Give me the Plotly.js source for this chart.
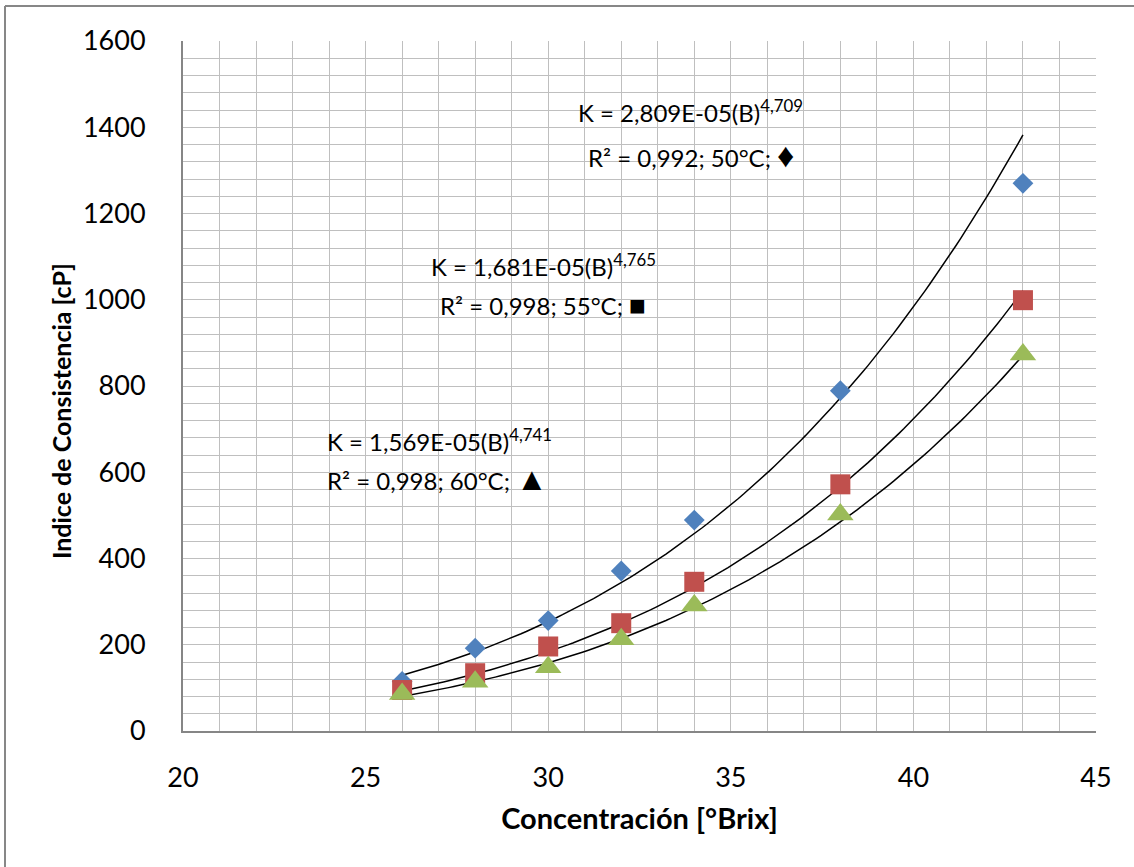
<!DOCTYPE html>
<html>
<head>
<meta charset="utf-8">
<script src="https://cdn.plot.ly/plotly-3.0.1.min.js"></script>
<style>
html,body{margin:0;padding:0;background:#fff;}
#chart{width:1134px;height:867px;}
</style>
</head>
<body>
<div id="chart"></div>
<script>
// Data
const brix = [26, 28, 30, 32, 34, 38, 43];
const k50 = [115, 192, 256, 371, 489, 789, 1270];
const k55 = [95, 134, 196, 250, 346, 572, 999];
const k60 = [86, 114, 148, 213, 291, 502, 873];

// Power trendline coefficients K = a * B^b (as printed on the chart)
const fitA = [2.809e-5, 1.681e-5, 1.569e-5];
const fitB = [4.709, 4.765, 4.741];

const seriesNames = ['50°C', '55°C', '60°C'];
const eqLine1 = ['K = 2,809E-05(B)<sup>4,709</sup>', 'K = 1,681E-05(B)<sup>4,765</sup>', 'K = 1,569E-05(B)<sup>4,741</sup>'];
const eqLine2 = ['R² = 0,992; 50°C; <span style="font-size:34px">♦</span>', 'R² = 0,998; 55°C; <span style="font-size:28px">■</span>', 'R² = 0,998; 60°C; <span style="font-size:32px">▲</span>'];

const xTitle = 'Concentración [°Brix]';
const yTitle = 'Indice de Consistencia [cP]';

const colors = ['#4F81BD', '#C0504D', '#9BBB59'];
const symbols = ['diamond', 'square', 'triangle-up'];
const sizes = [16, 20, 23];
const allY = [k50, k55, k60];

const traces = [];
// trendlines
const xmin = Math.min(...brix), xmax = Math.max(...brix);
for (let s = 0; s < 3; s++) {
  const xs = [], ys = [];
  for (let i = 0; i <= 120; i++) {
    const x = xmin + (xmax - xmin) * i / 120;
    xs.push(x);
    ys.push(fitA[s] * Math.pow(x, fitB[s]));
  }
  traces.push({x: xs, y: ys, mode: 'lines', line: {color: '#000', width: 1.5}, hoverinfo: 'skip', showlegend: false});
}
// markers
for (let s = 0; s < 3; s++) {
  traces.push({
    x: brix, y: allY[s], mode: 'markers', name: seriesNames[s],
    marker: {color: colors[s], symbol: symbols[s], size: sizes[s], line: {width: 0}},
    showlegend: false
  });
}

const L = 183, R = 38, T = 41, B = 136;
const pw = 1134 - L - R, ph = 867 - T - B;

// annotation positions (data coords)
const annPos = [
  [[33.91, 1438], [33.92, 1338]],
  [[29.88, 1080], [29.87, 990]],
  [[27.02, 674], [26.97, 588]]
];
const annotations = [];
for (let s = 0; s < 3; s++) {
  annotations.push({x: annPos[s][0][0], y: annPos[s][0][1], xref: 'x', yref: 'y', text: eqLine1[s], showarrow: false, font: {family: 'Lato, sans-serif', size: 24, color: '#000'}});
  annotations.push({x: annPos[s][1][0], y: annPos[s][1][1], xref: 'x', yref: 'y', text: eqLine2[s], showarrow: false, font: {family: 'Lato, sans-serif', size: 24, color: '#000'}});
}
// y-axis title
annotations.push({
  x: (61 - L) / pw, y: (T + ph - 411) / ph, xref: 'paper', yref: 'paper',
  text: '<b>' + yTitle + '</b>', textangle: -90, showarrow: false,
  xanchor: 'center', yanchor: 'middle',
  font: {family: 'Lato, sans-serif', size: 25, color: '#000'}
});

const shapes = [
  {type: 'line', xref: 'paper', yref: 'paper', x0: (5 - L) / pw, x1: (5 - L) / pw, y0: (T + ph - 6) / ph, y1: (T + ph - 870) / ph, line: {color: '#878787', width: 2}},
  {type: 'line', xref: 'paper', yref: 'paper', x0: (5 - L) / pw, x1: (1140 - L) / pw, y0: (T + ph - 6) / ph, y1: (T + ph - 6) / ph, line: {color: '#878787', width: 2}}
];

const layout = {
  width: 1134, height: 867,
  margin: {l: L, r: R, t: T, b: B},
  paper_bgcolor: '#fff', plot_bgcolor: '#fff',
  font: {family: 'Lato, sans-serif', color: '#000'},
  showlegend: false,
  xaxis: {
    range: [20, 45], dtick: 5, tick0: 20,
    showgrid: true, gridcolor: '#BFBFBF', gridwidth: 1,
    minor: {dtick: 1, showgrid: true, gridcolor: '#BFBFBF', gridwidth: 1},
    showline: true, linecolor: '#868686', linewidth: 2,
    zeroline: false, ticks: '', ticklen: 0, ticklabelstandoff: 22,
    tickfont: {family: 'Lato, sans-serif', size: 27, color: '#000'},
    title: {text: '<b>' + xTitle + '</b>', font: {family: 'Lato, sans-serif', size: 29, color: '#000'}, standoff: 16},
    automargin: false, fixedrange: true
  },
  yaxis: {
    range: [0, 1600], dtick: 200, tick0: 0,
    showgrid: true, gridcolor: '#BFBFBF', gridwidth: 1,
    minor: {dtick: 40, showgrid: true, gridcolor: '#BFBFBF', gridwidth: 1},
    showline: true, linecolor: '#868686', linewidth: 2,
    zeroline: false, ticks: '', ticklen: 0, ticklabelstandoff: 30,
    tickfont: {family: 'Lato, sans-serif', size: 27, color: '#000'},
    automargin: false, fixedrange: true
  },
  annotations: annotations,
  shapes: shapes
};

Plotly.newPlot('chart', traces, layout, {displayModeBar: false, staticPlot: true});
</script>
</body>
</html>
